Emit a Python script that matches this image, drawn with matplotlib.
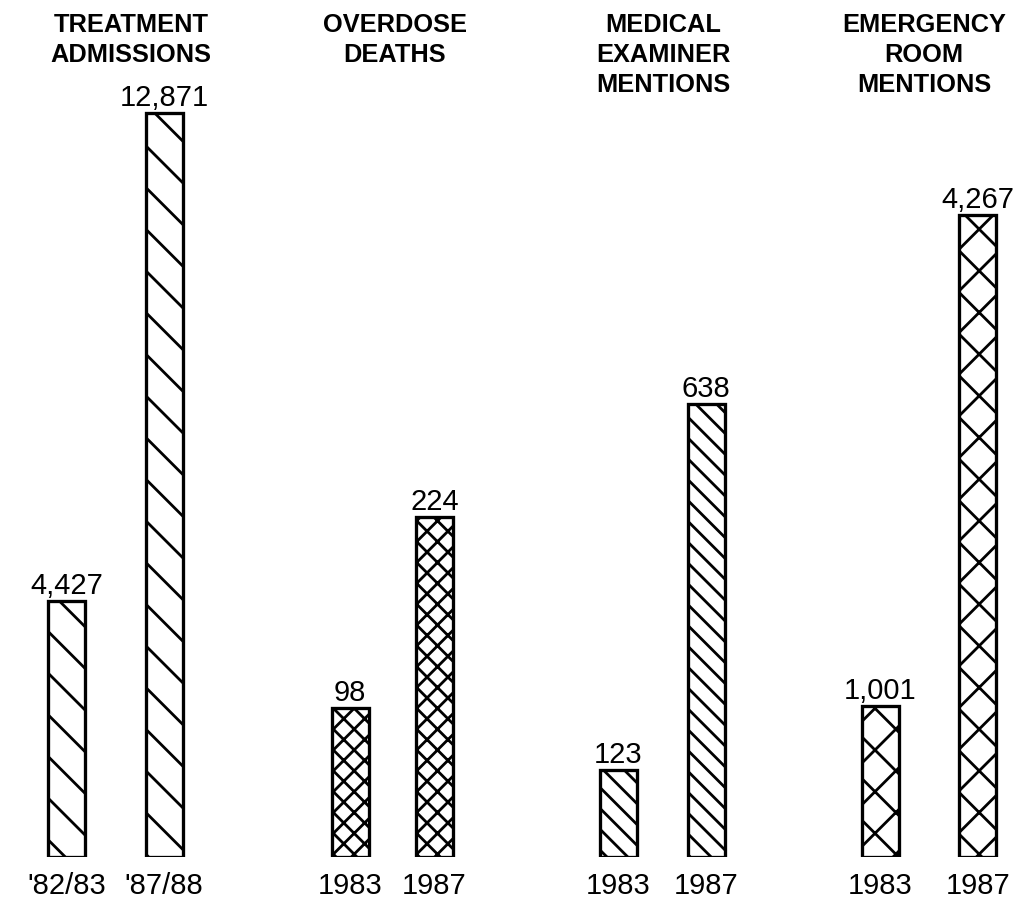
import matplotlib
matplotlib.use('Agg')
import matplotlib.pyplot as plt

# data
titles = ['TREATMENT\nADMISSIONS', 'OVERDOSE\nDEATHS',
          'MEDICAL\nEXAMINER\nMENTIONS', 'EMERGENCY\nROOM\nMENTIONS']
periods = [["'82/83", "'87/88"], ['1983', '1987'], ['1983', '1987'], ['1983', '1987']]
values = [[4427, 12871], [98, 224], [123, 638], [1001, 4267]]

# layout (pixels on a 1021x902 canvas)
W, H, DPI = 1021, 902, 250
bar_centers = [(66.5, 164), (350, 434.5), (618.5, 706), (880.5, 978)]
title_x = [131, 395, 663, 924]
hatches = ['\\\\', 'xxxx', '\\\\\\\\', 'xx']
y_tops = [13096, 499, 1065, 5030]   # each panel has its own scale
axis_bottom, axis_top = 857, 100
bar_px = 37

plt.rcParams['hatch.linewidth'] = 0.8
plt.rcParams['hatch.color'] = 'black'
num_font = ['Liberation Sans', 'DejaVu Sans']
title_font = ['Liberation Sans', 'DejaVu Sans']

fig = plt.figure(figsize=(W / DPI, H / DPI), dpi=DPI)

for i in range(4):
    c0, c1 = bar_centers[i]
    step = c1 - c0
    left = c0 - 0.6 * step
    width = 2.2 * step
    ax = fig.add_axes([left / W, (H - axis_bottom) / H, width / W,
                       (axis_bottom - axis_top) / H])
    ax.set_xlim(-0.6, 1.6)
    ax.set_ylim(0, y_tops[i])
    bars = ax.bar([0, 1], values[i], width=bar_px / step, color='white',
                  edgecolor='black', linewidth=0.95, hatch=hatches[i])
    for b, v in zip(bars, values[i]):
        ax.annotate(f'{v:,}', (b.get_x() + b.get_width() / 2, v),
                    xytext=(0, 2), textcoords='offset points',
                    ha='center', va='baseline', fontsize=8.4,
                    family=num_font)
    ax.set_xticks([0, 1])
    ax.set_xticklabels(periods[i], fontsize=8.4, family=num_font)
    ax.tick_params(axis='x', length=0, pad=4.4)
    ax.set_yticks([])
    for s in ax.spines.values():
        s.set_visible(False)

    for j, line in enumerate(titles[i].split('\n')):
        fig.text(title_x[i] / W, 1 - (32 + 30 * j) / H, line,
                 ha='center', va='baseline', fontsize=7.3, weight='bold',
                 family=title_font)

fig.savefig('out.png', dpi=DPI)
